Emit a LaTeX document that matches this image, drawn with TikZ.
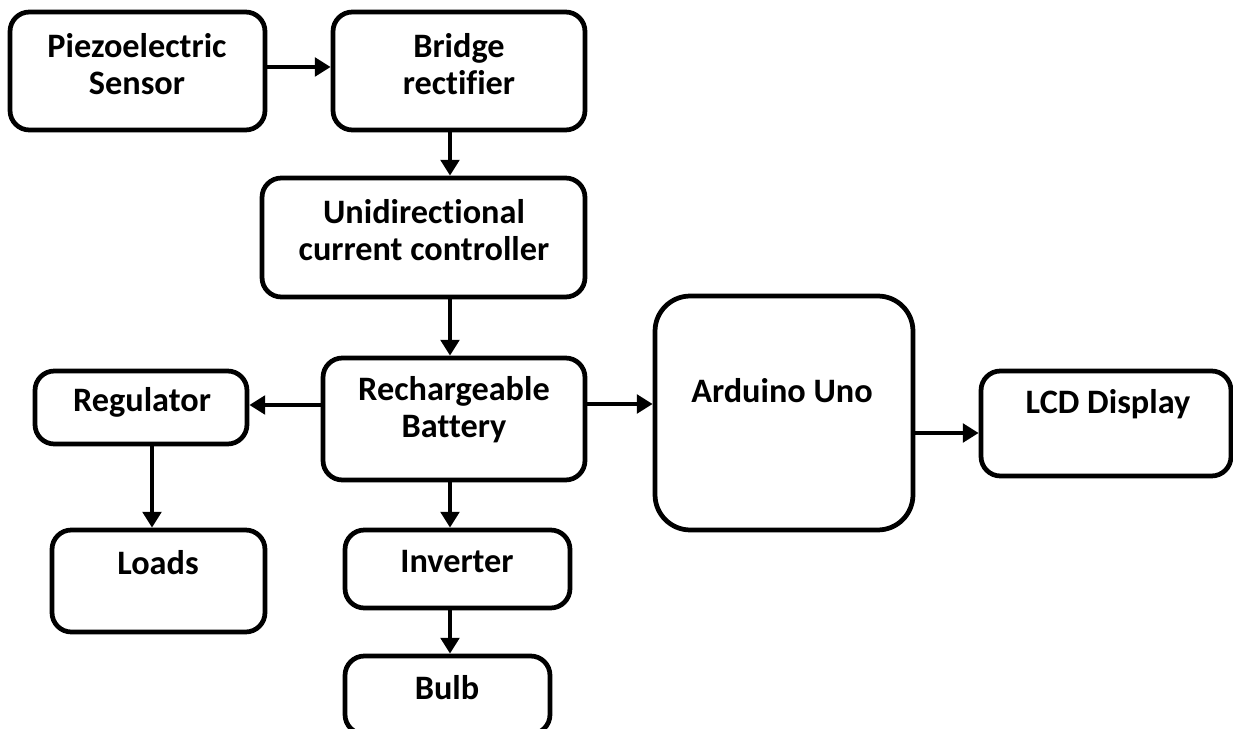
\documentclass[tikz,border=0pt]{standalone}
\usepackage{fontspec}
\setmainfont{Carlito}[Ligatures=NoCommon]
\usetikzlibrary{arrows.meta}
\begin{document}
\begin{tikzpicture}[x=0.02cm, y=-0.02cm,
    blk/.style={draw, line width=2.7pt, rounded corners=11pt, inner sep=0pt},
    txt/.style={align=center, font=\fontsize{19.5}{21}\selectfont\bfseries},
    arr/.style={line width=2.7pt, -{Triangle[length=9pt, width=10.5pt]}}]
            \useasboundingbox (0,0) rectangle (1233,729);
            % blocks
            \node[blk, minimum width=5.1cm, minimum height=2.36cm] (piezo) at (137.5,71) {};
            \node[blk, minimum width=5.04cm, minimum height=2.36cm] (bridge) at (459,71) {};
            \node[blk, minimum width=6.46cm, minimum height=2.38cm] (uni) at (423.5,237.5) {};
            \node[blk, minimum width=5.24cm, minimum height=2.44cm] (bat) at (454,419) {};
            \node[blk, minimum width=4.24cm, minimum height=1.46cm] (reg) at (141,407.5) {};
            \node[blk, minimum width=4.26cm, minimum height=2.04cm] (loads) at (158.5,581) {};
            \node[blk, minimum width=4.5cm, minimum height=1.56cm] (inv) at (457.5,569) {};
            \node[blk, minimum width=4.1cm, minimum height=1.56cm] (bulb) at (447.5,695) {};
            \node[blk, rounded corners=20pt, minimum width=5.16cm, minimum height=4.68cm] (ard) at (784,413) {};
            \node[blk, minimum width=5cm, minimum height=2.1cm] (lcd) at (1106,423.5) {};
            % labels
            \node[txt] (piezo-t) at (137,64) {Piezoelectric\\Sensor};
            \node[txt] (bridge-t) at (459,64) {Bridge\\rectifier};
            \node[txt] (uni-t) at (424,230) {Unidirectional\\current controller};
            \node[txt] (bat-t) at (454,410) {Rechargeable\\Battery};
            \node[txt] (reg-t) at (142,402) {Regulator};
            \node[txt] (loads-t) at (158,563) {Loads};
            \node[txt] (inv-t) at (457,562) {Inverter};
            \node[txt] (bulb-t) at (447,688) {Bulb};
            \node[txt] (ard-t) at (782,391) {Arduino Uno};
            \node[txt] (lcd-t) at (1108,404) {LCD Display};
            % connections
            \draw[arr] (piezo.east |- 0,67) -- (bridge.west |- 0,67);
            \draw[arr] (bridge.south -| 450,0) -- (uni.north -| 450,0);
            \draw[arr] (uni.south -| 450,0) -- (bat.north -| 450,0);
            \draw[arr] (bat.west |- 0,405) -- (reg.east |- 0,405);
            \draw[arr] (reg.south -| 152,0) -- (loads.north -| 152,0);
            \draw[arr] (bat.south -| 450,0) -- (inv.north -| 450,0);
            \draw[arr] (inv.south -| 450,0) -- (bulb.north -| 450,0);
            \draw[arr] (bat.east |- 0,404) -- (ard.west |- 0,404);
            \draw[arr] (ard.east |- 0,433) -- (lcd.west |- 0,433);
        \end{tikzpicture}
\end{document}
